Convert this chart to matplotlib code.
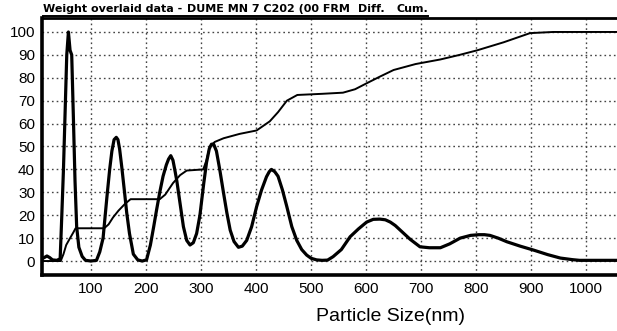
#!/usr/bin/env python3

import matplotlib.pyplot as plt
import numpy as np

# differential curve (thick line)
diff_x = [11, 15, 20, 25, 30, 38, 44, 47, 50, 53, 56, 59, 62, 65, 68, 71, 74,
          78, 84, 90, 100, 110, 116, 122, 129, 134, 138, 142, 146, 149, 152,
          156, 161, 165, 170, 177, 185, 193, 201, 208, 214, 219, 225, 231,
          237, 241, 245, 249, 253, 256, 262, 268, 274, 280, 286, 292, 298,
          305, 310, 315, 319, 323, 328, 334, 341, 347, 353, 360, 368, 375,
          383, 392, 401, 410, 419, 424, 428, 434, 440, 448, 456, 465, 474,
          483, 492, 500, 510, 520, 530, 540, 555, 571, 586, 601, 613, 625,
          635, 644, 653, 662, 680, 698, 715, 735, 752, 771, 790, 805, 815,
          825, 840, 856, 880, 904, 930, 953, 975, 988, 1020, 1056]
diff_y = [1, 1.5, 2.2, 1.5, 0.5, 0.3, 1, 20, 40, 65, 90, 100, 92, 90, 63, 35,
          15, 6, 2, 0.3, 0, 0.3, 4, 10, 28, 40, 48, 53, 54, 53, 49,
          41, 30, 21, 12, 3, 0.5, 0, 0.5, 7, 15, 22, 30, 37,
          42, 44.5, 46, 44, 39, 35, 25, 15, 9, 7, 8, 12, 20,
          34, 43, 49, 51, 51, 48, 40, 29.6, 21, 13.5, 8.5, 6, 6.5,
          9, 15, 23.7, 31, 36.8, 39, 40, 39, 37, 31, 23.7, 15, 9,
          5, 2.6, 1.2, 0.5, 0.3, 0.4, 1.9, 5, 10.6, 14, 17, 18.2, 18.3,
          18, 17, 15.5, 13.5, 9.5, 6.2, 5.8, 5.8, 7.5, 10, 11.2, 11.5, 11.5,
          11.2, 10, 8.4, 6.5, 4.8, 2.8, 1.3, 0.6, 0.3, 0.3, 0.3]

# cumulative curve (thin line)
cum_x = [11, 45, 50, 55, 62, 68, 72, 124, 132, 140, 150, 162, 172, 225, 235,
         249, 262, 274, 304, 310, 316, 325, 341, 370, 401, 425, 440, 456,
         475, 520, 558, 580, 601, 625, 650, 690, 735, 770, 802, 850, 898,
         940, 1056]
cum_y = [0, 0, 3, 7, 10, 12.5, 14.3, 14.3, 16, 19, 22, 25, 27, 27, 29,
         34, 37.5, 39.5, 40, 44, 50, 52, 53.6, 55.5, 57, 61, 65, 70,
         72.5, 73, 73.5, 75, 77.6, 80.5, 83.4, 86, 88, 90, 92, 95.5, 99.5,
         100, 100]

title_parts = [('Weight overlaid data -', 43), ('DUME MN 7 C202 (00 FRM', 187),
               ('Diff.', 358), ('Cum.', 396)]

plt.rcParams['font.family'] = ['Liberation Sans', 'DejaVu Sans']

W, H = 617, 331
fig = plt.figure(figsize=(W / 100, H / 100), dpi=100)
ax = fig.add_axes([42 / W, 1 - 275 / H, 1 - 42 / W, (275 - 18) / H])

ax.plot(diff_x, diff_y, color='black', lw=2.3, solid_joinstyle='round')
ax.plot(cum_x, cum_y, color='black', lw=1.4)

ax.set_xlim(11, 1056)
ax.set_ylim(-6.1, 106.1)
ax.set_xticks(np.arange(100, 1001, 100))
ax.set_yticks(np.arange(0, 101, 10))
ax.tick_params(length=0, labelsize=11, pad=5)
ax.grid(True, color='#444444', ls=(0, (1.2, 2.2)), lw=1.0)

for side in ['left', 'bottom']:
    ax.spines[side].set_linewidth(2.6)
ax.spines['top'].set_linewidth(2.0)
ax.spines['right'].set_visible(False)

ax.set_xlabel('Particle Size(nm)', fontsize=14, labelpad=6)
ax.xaxis.set_label_coords((391 - 42) / 575, -0.13)

for txt, px in title_parts:
    fig.text(px / W, 1 - 8.5 / H, txt, fontsize=8, fontweight='bold',
             ha='left', va='center', family='Liberation Sans Narrow')
fig.add_artist(plt.Line2D([43 / W, 428 / W], [1 - 15.5 / H] * 2,
                          color='black', lw=1.4))

fig.savefig('out.png', dpi=100)
